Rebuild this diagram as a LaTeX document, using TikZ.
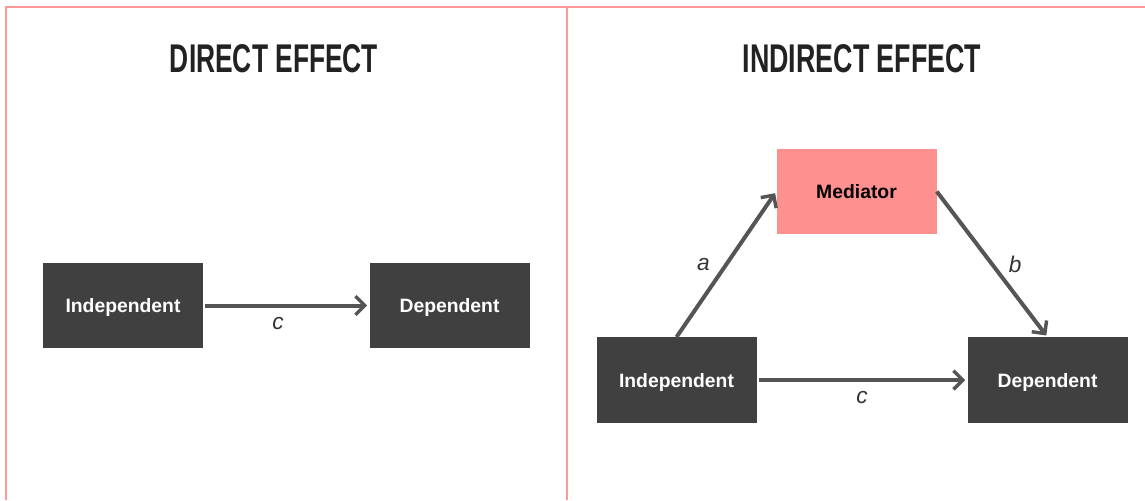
\documentclass[tikz,border=0pt]{standalone}
\usepackage{fontspec}
\setmainfont{Liberation Sans}
\usepackage{graphicx}
\usetikzlibrary{arrows.meta}
\tikzset{>={Straight Barb[length=7pt,width=14pt,line width=2.6pt]}}
\definecolor{frame}{HTML}{FF9999}
\definecolor{boxgray}{HTML}{404040}
\definecolor{linkgray}{HTML}{555555}
\definecolor{medpink}{HTML}{FF9090}
\definecolor{titleblack}{HTML}{222222}

\begin{document}
\begin{tikzpicture}[
    x = 0.75pt, y = -0.75pt,
    box/.style = {fill=boxgray, text=white, font=\bfseries\fontsize{14.5}{16}\selectfont,
        minimum width=120pt, minimum height=64pt, inner sep=0pt, text depth=0pt},
    medbox/.style = {box, fill=medpink, text=black},
    link/.style = {draw=linkgray, line width=3pt, ->, shorten >=1.5pt, shorten <=1.5pt},
    lbl/.style = {font=\itshape\fontsize{17}{18}\selectfont, text=black!80, inner sep=1pt},
    title/.style = {text=titleblack, inner sep=0pt}
  ]
  \useasboundingbox (0,0) rectangle (1145,500);

  % frame
  \draw[frame, line width=1.5pt] (6,500) -- (6,7) -- (1145,7);
  \draw[frame, line width=1.5pt] (567,7) -- (567,500);

  % titles
  \node[title] (tdirect) at (274,59) {\resizebox{156pt}{21pt}{\bfseries DIRECT EFFECT}};
  \node[title] (tindirect) at (862,59) {\resizebox{179pt}{21pt}{\bfseries INDIRECT EFFECT}};

  % direct effect
  \node[box] (lind) at (123,305.5) {Independent};
  \node[box] (ldep) at (449.5,305.5) {Dependent};
  \draw[link] (lind) -- node[lbl, pos=0.45, below=6pt] (lc) {c} (ldep);

  % indirect effect
  \node[medbox] (med) at (856.5,191.5) {Mediator};
  \node[box] (rind) at (676.5,380) {Independent};
  \node[box] (rdep) at (1047.5,380) {Dependent};
  \draw[link, shorten <=0pt] (rind.north) -- node[lbl, left=10pt] (la) {a} (med.west);
  \draw[link, shorten <=0pt] (med.east) -- node[lbl, right=10pt] (lb) {b} (rdep.north);
  \draw[link] (rind) -- node[lbl, below=6pt] (rc) {c} (rdep);
\end{tikzpicture}
\end{document}
